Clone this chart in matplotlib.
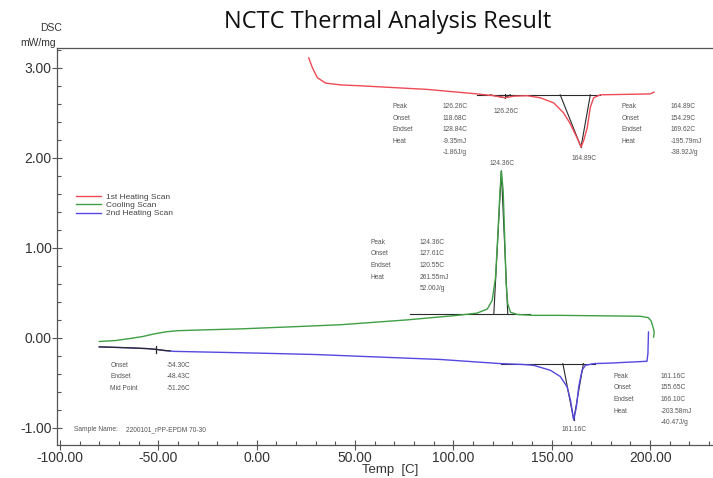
import numpy as np
import matplotlib.pyplot as plt
from matplotlib.ticker import MultipleLocator, FormatStrFormatter

# DSC traces: temperature [C] and heat flow [mW/mg]
heat1_temp = [26.4, 28.3, 30.8, 35.0, 42.7, 52.8, 86.7, 112.0, 120.5, 126.26, 130.6,
              137.5, 144.2, 151.0, 156.0, 159.5, 162.9, 164.89, 166.2, 168.0, 169.6,
              171.3, 174.7, 188.0, 200.0, 202.0]
heat1_dsc = [3.11, 3.00, 2.89, 2.83, 2.81, 2.80, 2.76, 2.71, 2.69, 2.667, 2.685,
             2.69, 2.667, 2.61, 2.50, 2.375, 2.22, 2.12, 2.19, 2.33, 2.56,
             2.667, 2.70, 2.705, 2.71, 2.73]

cool_temp = [-80.1, -72.0, -65.4, -58.0, -52.0, -46.0, -40.0, -25.0, -8.1, 20.0, 42.7,
             76.5, 102.0, 112.0, 117.2, 119.7, 121.4, 122.6, 123.6, 124.36, 125.3,
             126.0, 126.8, 127.6, 129.0, 132.4, 140.7, 154.4, 175.0, 195.0, 199.0,
             200.5, 201.5, 202.1, 201.8]
cool_dsc = [-0.04, -0.03, -0.01, 0.015, 0.045, 0.068, 0.08, 0.09, 0.10, 0.125, 0.146,
            0.20, 0.25, 0.275, 0.32, 0.415, 0.67, 1.15, 1.60, 1.855, 1.63,
            1.16, 0.60, 0.38, 0.285, 0.26, 0.25, 0.25, 0.245, 0.24, 0.225,
            0.19, 0.12, 0.064, 0.009]

heat2_temp = [-80.1, -65.7, -55.0, -50.4, -47.0, -42.0, -20.0, 2.0, 30.0, 52.8, 93.4,
              124.0, 135.0, 140.8, 149.3, 154.4, 157.8, 159.5, 161.16, 162.5, 163.7,
              165.4, 167.1, 171.3, 179.8, 198.4, 198.9, 199.2]
heat2_dsc = [-0.10, -0.11, -0.12, -0.13, -0.14, -0.15, -0.16, -0.17, -0.185, -0.205, -0.24,
             -0.286, -0.295, -0.305, -0.36, -0.43, -0.545, -0.69, -0.91, -0.77, -0.545,
             -0.36, -0.305, -0.286, -0.28, -0.26, -0.175, 0.065]

# peak evaluations: (peak T, peak value, onset, endset, baseline from, baseline to, baseline level)
peaks = [
    (126.26, 2.667, 118.68, 128.84, 112.0, 131.0, 2.70),
    (164.89, 2.12, 154.29, 169.62, 123.5, 174.7, 2.70),
    (124.36, 1.855, 120.55, 127.61, 78.0, 139.0, 0.27),
    (161.16, -0.91, 155.65, 166.10, 124.0, 172.0, -0.286),
]

# glass transition on the 2nd heating scan
tg_temp = [-80.1, -65.7, -55.0, -50.4, -47.0, -44.0]
tg_dsc = [-0.10, -0.11, -0.12, -0.13, -0.14, -0.145]
tg_mid = -51.26

fig = plt.figure(figsize=(7.13, 4.78), dpi=100)
ax = fig.add_axes([57 / 713, 1 - 445 / 478, 1 - 57 / 713, 397 / 478])

ax.plot(heat1_temp, heat1_dsc, color='#ef4a55', lw=1.0, zorder=3, label='1st Heating Scan')
ax.plot(cool_temp, cool_dsc, color='#3f9f45', lw=1.0, zorder=3, label='Cooling Scan')
ax.plot(heat2_temp, heat2_dsc, color='#5548e0', lw=1.0, zorder=3, label='2nd Heating Scan')

# baselines and tangent constructions
ink = dict(color='#2a2a2a', lw=0.8, zorder=2)
for pk_t, pk_y, on_t, end_t, b0, b1, base in peaks:
    ax.plot([b0, b1], [base, base], **ink)
    ax.plot([on_t, pk_t, end_t], [base, pk_y, base], **ink)
    ax.plot([pk_t, pk_t], [pk_y, pk_y + 0.04 * np.sign(base - pk_y)], **ink)

ax.plot(tg_temp, tg_dsc, color='#2a2a2a', lw=0.9, zorder=4)
ax.plot([tg_mid, tg_mid], [-0.095, -0.17], color='#2a2a2a', lw=0.9, zorder=4)

# result tables
txt = dict(fontsize=4.8, color='#555555', family='Liberation Sans', va='center')


def table(x_lab, x_val, y0, rows, step=0.129):
    for i, (lab, val) in enumerate(rows):
        y = y0 - i * step
        if lab:
            ax.text(x_lab, y, lab, **txt)
        ax.text(x_val, y, val, **txt)


table(68.9, 94.3, 2.571, [('Peak', '126.26C'), ('Onset', '118.68C'),
                          ('Endset', '128.84C'), ('Heat', '-9.35mJ'), ('', '-1.86J/g')])
table(185.7, 210.3, 2.571, [('Peak', '164.89C'), ('Onset', '154.29C'),
                            ('Endset', '169.62C'), ('Heat', '-195.79mJ'), ('', '-38.92J/g')])
table(57.9, 82.9, 1.061, [('Peak', '124.36C'), ('Onset', '127.61C'),
                          ('Endset', '120.55C'), ('Heat', '261.55mJ'), ('', '52.00J/g')])
table(181.5, 205.2, -0.426, [('Peak', '161.16C'), ('Onset', '155.65C'),
                             ('Endset', '166.10C'), ('Heat', '-203.58mJ'), ('', '-40.47J/g')])
table(-74.5, -45.7, -0.305, [('Onset', '-54.30C'), ('Endset', '-48.43C'),
                             ('Mid Point', '-51.26C')])

peak_txt = dict(txt, ha='center')
ax.text(127.0, 2.52, '126.26C', **peak_txt)
ax.text(166.6, 1.995, '164.89C', **peak_txt)
ax.text(124.8, 1.935, '124.36C', **peak_txt)
ax.text(161.2, -1.017, '161.16C', **peak_txt)

ax.text(-93.1, -1.017, 'Sample Name:', **txt)
ax.text(-66.5, -1.017, '2200101_rPP-EPDM 70-30', **txt)

# axes styling
ax.set_xlim(-101.6, 232.0)
ax.set_ylim(-1.19, 3.22)
ax.xaxis.set_major_locator(MultipleLocator(50))
ax.xaxis.set_minor_locator(MultipleLocator(10))
ax.yaxis.set_major_locator(MultipleLocator(1))
ax.yaxis.set_minor_locator(MultipleLocator(0.2))
ax.xaxis.set_major_formatter(FormatStrFormatter('%.2f'))
ax.yaxis.set_major_formatter(FormatStrFormatter('%.2f'))
ax.tick_params(which='major', direction='inout', length=7, width=0.8, color='#555555',
               labelsize=10, labelcolor='#333333', pad=0.5)
ax.tick_params(which='minor', direction='in', length=3, width=0.8, color='#555555')
for lab in ax.get_xticklabels() + ax.get_yticklabels():
    lab.set_family('Liberation Sans')
ax.spines['right'].set_visible(False)
for side in ('left', 'bottom', 'top'):
    ax.spines[side].set_color('#555555')
    ax.spines[side].set_linewidth(0.9)

leg = ax.legend(loc='upper left', bbox_to_anchor=(0.022, 0.645), frameon=False,
                prop={'family': 'Liberation Sans', 'size': 6}, handlelength=3.0,
                handletextpad=0.7, labelspacing=0.05, borderpad=0)
for t in leg.get_texts():
    t.set_color('#444444')

fig.text(0.544, 0.953, 'NCTC Thermal Analysis Result', ha='center', va='center',
         fontsize=17, family='Open Sans', color='#111111')
fig.text(62 / 713, 1 - 28 / 478, 'DSC', ha='right', va='center', fontsize=7.5,
         family='Liberation Sans', color='#333333')
fig.text(56 / 713, 1 - 43 / 478, 'mW/mg', ha='right', va='center', fontsize=7.5,
         family='Liberation Sans', color='#333333')
fig.text(390 / 713, 1 - 470 / 478, 'Temp  [C]', ha='center', va='center', fontsize=9.5,
         family='Liberation Sans', color='#333333')

fig.savefig('out.png', dpi=100)
